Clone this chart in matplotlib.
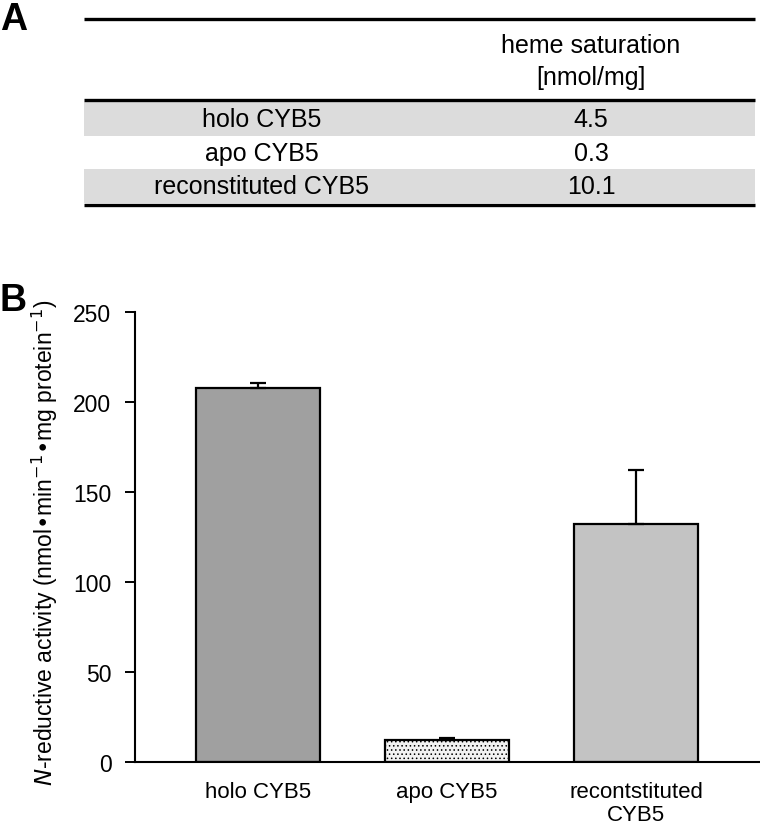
import numpy as np
import matplotlib
matplotlib.use('Agg')
import matplotlib.pyplot as plt

plt.rcParams['font.family'] = ['Liberation Sans', 'DejaVu Sans']
plt.rcParams['hatch.color'] = '#777777'
plt.rcParams['hatch.linewidth'] = 0.6

# panel A table
table_rows = ['holo CYB5', 'apo CYB5', 'reconstituted CYB5']
table_values = ['4.5', '0.3', '10.1']
table_header = 'heme saturation\n[nmol/mg]'

# panel B bars
categories = ['holo CYB5', 'apo CYB5', 'recontstituted\nCYB5']
activity = [208.0, 12.3, 132.5]
activity_err = [2.7, 1.0, 30.0]
bar_colors = ['#a0a0a0', '#f2f2f2', '#c3c3c3']
bar_hatches = ['', '....', '']
y_ticks = [0, 50, 100, 150, 200, 250]

W, H = 760, 828
fig = plt.figure(figsize=(W / 100, H / 100), dpi=100)

# ---- panel A: table drawn in pixel coordinates ----
ax_t = fig.add_axes([0, 1 - 215 / H, 1, 215 / H])
ax_t.set_xlim(0, W)
ax_t.set_ylim(215, 0)
ax_t.axis('off')

x0, x1 = 84, 755
col1, col2 = 262, 591
band_color = '#dcdcdc'
row_y = [120, 154, 187]
row_h = 34
for i, (name, val) in enumerate(zip(table_rows, table_values)):
    if i % 2 == 0:
        ax_t.fill_between([x0, x1], row_y[i] - row_h / 2, row_y[i] + row_h / 2,
                          color=band_color, lw=0)
    ax_t.text(col1, row_y[i], name, ha='center', va='center', fontsize=18)
    ax_t.text(col2, row_y[i], val, ha='center', va='center', fontsize=18)

ax_t.text(col2, 62, table_header, ha='center', va='center', fontsize=18,
          linespacing=1.4)
for yy in [20, 101, 206]:
    ax_t.plot([x0, x1], [yy, yy], color='black', lw=2.4, solid_capstyle='butt')

fig.text(0.0, 1 - 2 / H, 'A', fontsize=27, fontweight='bold', ha='left', va='top')
fig.text(0.0, 1 - 283 / H, 'B', fontsize=27, fontweight='bold', ha='left', va='top')

# ---- panel B: bar chart ----
ax = fig.add_axes([135 / W, 1 - 763 / H, (759 - 135) / W, (763 - 313) / H])
x = np.arange(len(categories))
bars = ax.bar(x, activity, width=0.66, color=bar_colors, edgecolor='black',
              linewidth=1.6, zorder=2)
for b, h in zip(bars, bar_hatches):
    if h:
        b.set_hatch(h)
ax.errorbar(x, activity, yerr=[np.zeros(len(activity)), activity_err],
            fmt='none', ecolor='black', elinewidth=1.6, capsize=6,
            capthick=1.6, zorder=3)

ax.set_xlim(-0.65, 2.65)
ax.set_ylim(0, 250)
ax.set_yticks(y_ticks)
ax.tick_params(axis='y', direction='out', length=7, width=1.4, labelsize=16.5, pad=10)
ax.tick_params(axis='x', length=0, labelsize=16, pad=14)
ax.set_xticks(x)
ax.set_xticklabels(categories, linespacing=1.1)
for s in ['top', 'right']:
    ax.spines[s].set_visible(False)
for s in ['left', 'bottom']:
    ax.spines[s].set_linewidth(1.5)

ax.set_ylabel(r'$\it{N}$-reductive activity (nmol•min$^{-1}$•mg protein$^{-1}$)',
              fontsize=16.5)
ax.yaxis.set_label_coords(-0.12, 0.49)

fig.savefig('out.png', dpi=100)
